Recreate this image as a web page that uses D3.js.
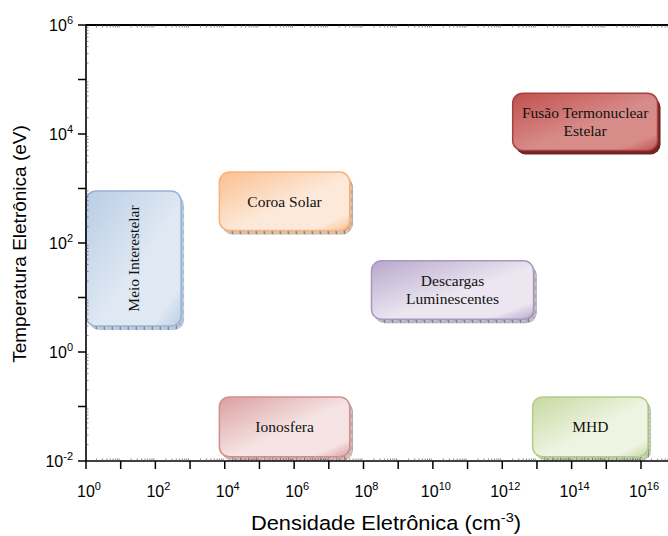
<!DOCTYPE html>
<html>
<head>
<meta charset="utf-8">
<script src="https://cdn.jsdelivr.net/npm/d3@7"></script>
<style>
  html, body { margin: 0; padding: 0; background: #fff; }
  svg { display: block; }
</style>
</head>
<body>
<svg id="chart" width="668" height="536"></svg>
<script>
// Plasma regions: electron density (cm^-3) vs electron temperature (eV)
const regionNames = ["Meio Interestelar", "Coroa Solar", "Descargas Luminescentes",
                     "Fusão Termonuclear Estelar", "Ionosfera", "MHD"];
const regionLines = [["Meio Interestelar"], ["Coroa Solar"], ["Descargas", "Luminescentes"],
                     ["Fusão Termonuclear", "Estelar"], ["Ionosfera"], ["MHD"]];
const densityMin = [1, 7e3, 1.7e8, 2e12, 7e3, 7.5e12];
const densityMax = [5.5e2, 4e7, 8e12, 3e16, 4e7, 1.6e16];
const tempMin = [3, 170, 4, 5000, 0.012, 0.012];
const tempMax = [900, 2000, 47, 56000, 0.15, 0.15];
const regionColors = [
  { edge: "#95b3d7", dark: "#b9cde5", light: "#dfe8f3", shadow: "#8aa0bb" },
  { edge: "#f7b27e", dark: "#fac090", light: "#fde9d9", shadow: "#b58d6c" },
  { edge: "#a898bd", dark: "#b8a8cc", light: "#ebe6f0", shadow: "#8d8299" },
  { edge: "#a8403d", dark: "#c0504d", light: "#d88c8a", shadow: "#6e2524" },
  { edge: "#d28e8c", dark: "#daa0a0", light: "#f6e4e4", shadow: "#a98a8a" },
  { edge: "#b5cc88", dark: "#c6d9a0", light: "#eef4e2", shadow: "#98a585" }
];
const verticalLabel = [true, false, false, false, false, false];

const xTickPowers = d3.range(0, 17);
const yTickPowers = d3.range(-2, 7);

const svg = d3.select("#chart");
const plotLeft = 86, plotTop = 25, plotBottom = 461;

const x = d3.scaleLog().domain([1, 1e16]).range([plotLeft, 641]);
const y = d3.scaleLog().domain([1e-2, 1e6]).range([plotBottom, plotTop]);
const xEnd = 668;

const defs = svg.append("defs");

// Gradients and shadow hatching for each region box
regionColors.forEach((c, i) => {
  const g = defs.append("linearGradient").attr("id", "grad" + i)
    .attr("x1", "0%").attr("y1", "0%").attr("x2", "100%").attr("y2", "100%");
  g.append("stop").attr("offset", "0%").attr("stop-color", c.dark);
  g.append("stop").attr("offset", "55%").attr("stop-color", c.light);
  g.append("stop").attr("offset", "85%").attr("stop-color", c.light);
  g.append("stop").attr("offset", "100%").attr("stop-color", c.dark);

  const p = defs.append("pattern").attr("id", "hatch" + i)
    .attr("patternUnits", "userSpaceOnUse").attr("width", 8).attr("height", 8);
  p.append("rect").attr("width", 8).attr("height", 8).attr("fill", c.shadow).attr("opacity", i === 3 ? 1 : 0.55);
  if (i !== 3) {
    p.append("path").attr("d", "M0,0L8,8M8,0L0,8").attr("stroke", c.shadow).attr("stroke-width", 0.6);
    p.append("path").attr("d", "M0.5,0V8").attr("stroke", "#555").attr("stroke-width", 0.8).attr("opacity", 0.6);
  }
});

// Region boxes
const boxes = svg.append("g").selectAll("g").data(regionNames).join("g");

boxes.append("rect")
  .attr("x", (d, i) => x(densityMin[i]) + 3)
  .attr("y", (d, i) => y(tempMax[i]) + 4)
  .attr("width", (d, i) => x(densityMax[i]) - x(densityMin[i]))
  .attr("height", (d, i) => y(tempMin[i]) - y(tempMax[i]))
  .attr("rx", 10)
  .attr("fill", (d, i) => "url(#hatch" + i + ")");

boxes.append("rect")
  .attr("x", (d, i) => x(densityMin[i]))
  .attr("y", (d, i) => y(tempMax[i]))
  .attr("width", (d, i) => x(densityMax[i]) - x(densityMin[i]))
  .attr("height", (d, i) => y(tempMin[i]) - y(tempMax[i]))
  .attr("rx", 10)
  .attr("fill", (d, i) => "url(#grad" + i + ")")
  .attr("stroke", (d, i) => regionColors[i].edge)
  .attr("stroke-width", 1.5);

boxes.each(function (d, i) {
  const cx = (x(densityMin[i]) + x(densityMax[i])) / 2;
  const cy = (y(tempMin[i]) + y(tempMax[i])) / 2;
  const lines = regionLines[i];
  const t = d3.select(this).append("text")
    .attr("font-family", "'Liberation Serif', 'Times New Roman', serif")
    .attr("font-size", 15.5)
    .attr("fill", "#111")
    .attr("text-anchor", "middle")
    .attr("transform", verticalLabel[i] ? `translate(${cx},${cy}) rotate(-90)` : `translate(${cx},${cy})`);
  lines.forEach((ln, k) => {
    t.append("tspan").attr("x", 0)
      .attr("y", (k - (lines.length - 1) / 2) * 18)
      .attr("dy", "0.35em")
      .text(ln);
  });
});

// Axes frame
const axisG = svg.append("g").attr("stroke", "#000").attr("fill", "none");
axisG.append("line").attr("x1", plotLeft).attr("x2", xEnd).attr("y1", plotBottom).attr("y2", plotBottom).attr("stroke-width", 1.6);
axisG.append("line").attr("x1", plotLeft).attr("x2", plotLeft).attr("y1", plotTop).attr("y2", plotBottom).attr("stroke-width", 1.6);
axisG.append("line").attr("x1", plotLeft).attr("x2", xEnd).attr("y1", plotTop).attr("y2", plotTop).attr("stroke-width", 2);

// Minor ticks (short, inside the frame)
const xMinor = [];
for (let p = 0; p <= 16; p++) for (let m = 2; m <= 9; m++) {
  const v = m * Math.pow(10, p);
  if (x(v) < xEnd) xMinor.push(v);
}
const yMinor = [];
for (let p = -2; p < 6; p++) for (let m = 2; m <= 9; m++) yMinor.push(m * Math.pow(10, p));

axisG.selectAll(".xmb").data(xMinor).join("line")
  .attr("x1", d => x(d)).attr("x2", d => x(d)).attr("y1", plotBottom).attr("y2", plotBottom - 2.5)
  .attr("stroke-width", 0.7).attr("stroke", "#555");
axisG.selectAll(".xmt").data(xMinor).join("line")
  .attr("x1", d => x(d)).attr("x2", d => x(d)).attr("y1", plotTop).attr("y2", plotTop + 2.5)
  .attr("stroke-width", 0.7).attr("stroke", "#555");
axisG.selectAll(".ym").data(yMinor).join("line")
  .attr("x1", plotLeft).attr("x2", plotLeft + 2.5).attr("y1", d => y(d)).attr("y2", d => y(d))
  .attr("stroke-width", 0.7).attr("stroke", "#555");

// Major ticks
axisG.selectAll(".xM").data(xTickPowers).join("line")
  .attr("x1", d => x(Math.pow(10, d))).attr("x2", d => x(Math.pow(10, d)))
  .attr("y1", plotBottom).attr("y2", plotBottom + 8).attr("stroke-width", 1.5);
axisG.selectAll(".yM").data(yTickPowers).join("line")
  .attr("x1", plotLeft - 8).attr("x2", plotLeft)
  .attr("y1", d => y(Math.pow(10, d))).attr("y2", d => y(Math.pow(10, d))).attr("stroke-width", 1.5);

// Tick labels (every second decade)
const labelFont = "'Liberation Sans', Arial, sans-serif";
const xLabels = svg.append("g").selectAll("text").data(xTickPowers.filter(p => p % 2 === 0)).join("text")
  .attr("x", d => x(Math.pow(10, d)) + 3)
  .attr("y", 497)
  .attr("text-anchor", "middle")
  .attr("font-family", labelFont).attr("font-size", 16).attr("fill", "#000");
xLabels.append("tspan").text("10");
xLabels.append("tspan").attr("dy", -7).attr("font-size", 11).text(d => d);

const yLabels = svg.append("g").selectAll("text").data(yTickPowers.filter(p => p % 2 === 0)).join("text")
  .attr("x", 73)
  .attr("y", d => y(Math.pow(10, d)) + 6)
  .attr("text-anchor", "end")
  .attr("font-family", labelFont).attr("font-size", 16).attr("fill", "#000");
yLabels.append("tspan").text("10");
yLabels.append("tspan").attr("dy", -7).attr("font-size", 11).text(d => d);

// Axis titles
const xt = svg.append("text").attr("transform", "translate(386,530) scale(1.12,1)").attr("text-anchor", "middle")
  .attr("font-family", labelFont).attr("font-size", 19.5).attr("fill", "#000");
xt.append("tspan").text("Densidade Eletrônica (cm");
xt.append("tspan").attr("dy", -8).attr("font-size", 13).text("-3");
xt.append("tspan").attr("dy", 8).text(")");

svg.append("text").attr("transform", "translate(26,244) rotate(-90)").attr("text-anchor", "middle")
  .attr("font-family", labelFont).attr("font-size", 19).attr("fill", "#000")
  .text("Temperatura Eletrônica (eV)");
</script>
</body>
</html>
